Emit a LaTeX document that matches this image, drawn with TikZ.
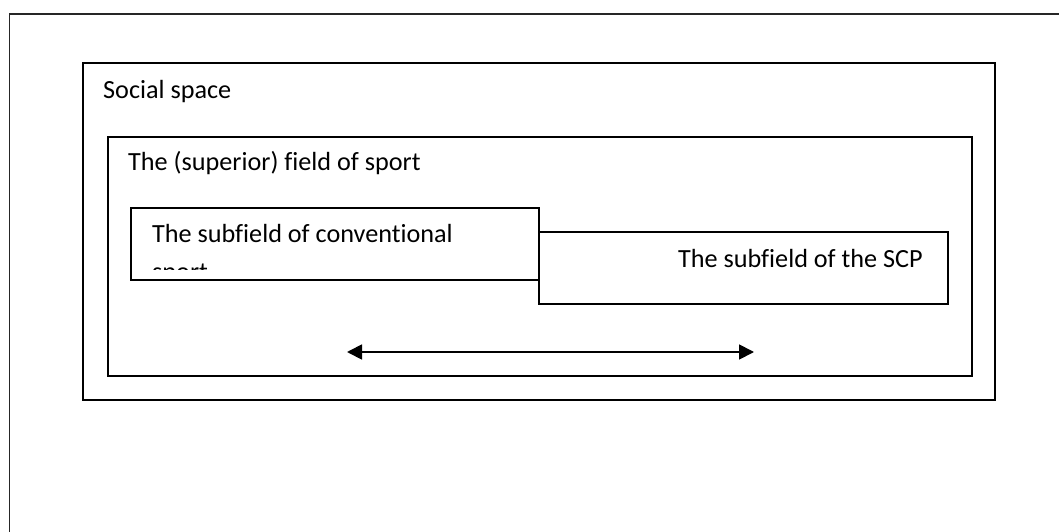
\documentclass[tikz,border=0pt]{standalone}
\usepackage{fontspec}
\setmainfont{Carlito}[Ligatures=NoCommon]
\usetikzlibrary{arrows.meta}
\begin{document}
\begin{tikzpicture}[x=1pt,y=-1pt,
  boxline/.style={draw=black,line width=1.8pt},
  lbl/.style={inner sep=0pt,anchor=base west,font=\fontsize{26.2}{40}\selectfont}]
\useasboundingbox (0,0) rectangle (1059,532);
% outer page frame (clipped by page)
\coordinate (fTL) at (9.5,14);
\coordinate (fTR) at (1059,14);
\coordinate (fBL) at (9.5,532);
\draw[line width=1.2pt,black!85] (fBL) -- (fTL) -- (fTR);
% social space
\node[boxline,inner sep=0pt,minimum width=912pt,minimum height=337pt,anchor=north west] (social) at (82,62) {};
\node[lbl] (socialtxt) at (103,99) {Social space};
% field of sport
\node[boxline,inner sep=0pt,minimum width=864pt,minimum height=239pt,anchor=north west] (field) at (107,136) {};
\node[lbl] (fieldtxt) at (128,170) {The (superior) field of sport};
% conventional subfield
\node[lbl] (convtxt) at (152,242) {The subfield of conventional};
\begin{scope}
\clip (130,207) rectangle (538,269.5);
\node[lbl] (convtxtb) at (152,280) {sport};
\end{scope}
\node[boxline,inner sep=0pt,minimum width=408pt,minimum height=72pt,anchor=north west] (conv) at (130,207) {};
% SCP subfield
\node[boxline,inner sep=0pt,minimum width=409pt,minimum height=72pt,anchor=north west] (scp) at (538,231) {};
\node[lbl] (scptxt) at (678,267) {The subfield of the SCP};
% arrow
\coordinate (aL) at (347,352);
\coordinate (aR) at (754,352);
\draw[line width=1.8pt,{Triangle[length=15pt,width=15pt]}-{Triangle[length=15pt,width=15pt]}] (aL) -- (aR);
\end{tikzpicture}
\end{document}
